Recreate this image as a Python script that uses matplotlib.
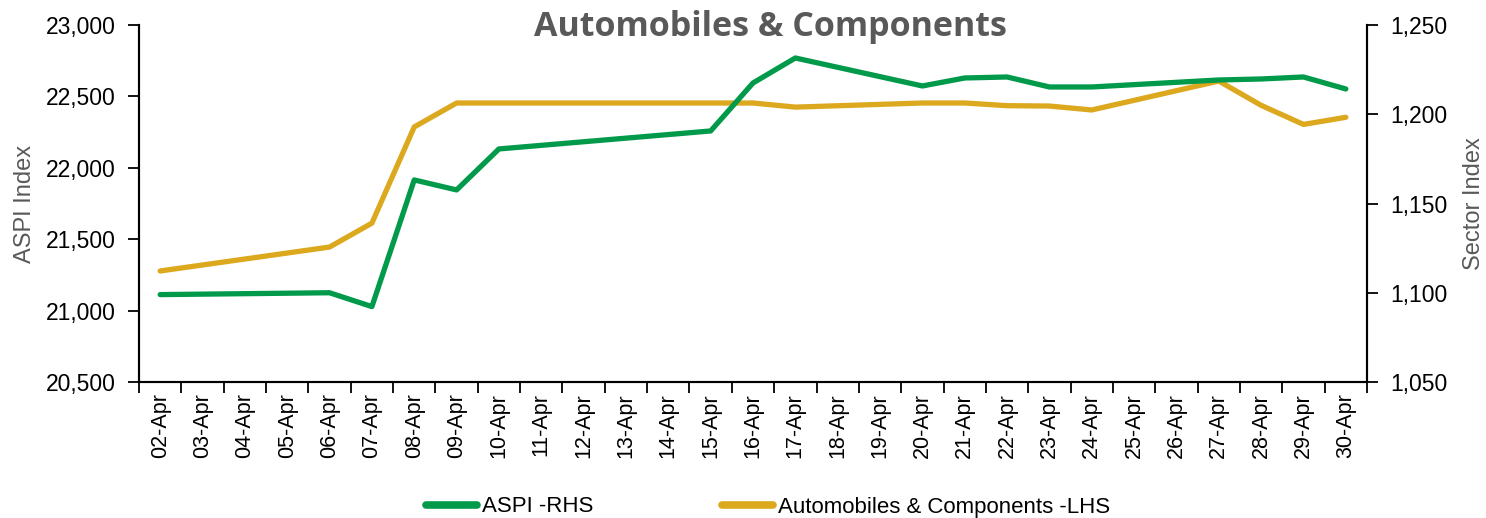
import matplotlib
matplotlib.use("Agg")
import matplotlib.pyplot as plt
from matplotlib.ticker import FuncFormatter, FixedLocator, NullFormatter

# ---- data ----
all_days = list(range(2, 31))
day_labels = [f"{d:02d}-Apr" for d in all_days]

trade_days = [2, 6, 7, 8, 9, 10, 15, 16, 17, 20, 21, 22, 23, 24, 27, 28, 29, 30]
aspi = [21112, 21125, 21028, 21915, 21845, 22132, 22258, 22594, 22769,
        22573, 22629, 22636, 22566, 22566, 22615, 22622, 22636, 22552]
auto = [1112.2, 1125.6, 1139.0, 1192.9, 1206.3, 1206.3, 1206.3, 1206.3, 1204.0,
        1206.3, 1206.3, 1204.8, 1204.6, 1202.4, 1218.6, 1205.0, 1194.3, 1198.3]

title = "Automobiles & Components"
left_label = "ASPI Index"
right_label = "Sector Index"
aspi_name = "ASPI -RHS"
auto_name = "Automobiles & Components -LHS"

GREEN = "#009A4A"
GOLD = "#DCA81E"
GRAY = "#595959"

plt.rcParams['font.family'] = ['Liberation Sans', 'DejaVu Sans']

fig = plt.figure(figsize=(14.86, 5.18), dpi=100)
ax = fig.add_axes([139/1486, 1-382/518, (1367-139)/1486, (382-25)/518])
ax2 = ax.twinx()

l1, = ax.plot(trade_days, aspi, color=GREEN, lw=3.8, solid_capstyle='round', solid_joinstyle='round', zorder=3)
l2, = ax2.plot(trade_days, auto, color=GOLD, lw=3.8, solid_capstyle='round', solid_joinstyle='round', zorder=2)
ax.set_zorder(ax2.get_zorder() + 1)
ax.patch.set_visible(False)

ax.set_xlim(1.5, 30.5)
ax.set_ylim(20500, 23000)
ax2.set_ylim(1050, 1250)
ax.set_yticks([20500, 21000, 21500, 22000, 22500, 23000])
ax2.set_yticks([1050, 1100, 1150, 1200, 1250])
fmt = FuncFormatter(lambda v, p: f"{v:,.0f}")
ax.yaxis.set_major_formatter(fmt)
ax2.yaxis.set_major_formatter(fmt)

ax.xaxis.set_major_locator(FixedLocator([d - 0.5 for d in all_days] + [30.5]))
ax.xaxis.set_major_formatter(NullFormatter())
ax.xaxis.set_minor_locator(FixedLocator(all_days))
ax.set_xticklabels(day_labels, minor=True, rotation=90, fontsize=15.5)
ax.tick_params(axis='x', which='major', length=8, width=1.3, direction='out')
ax.tick_params(axis='x', which='minor', length=0, pad=8)
ax.tick_params(axis='y', length=8, width=1.3, labelsize=16.5, pad=9)
ax2.tick_params(axis='y', length=8, width=1.3, labelsize=16.5, pad=9)

for a in (ax, ax2):
    a.spines['top'].set_visible(False)
    for s in ('left', 'right', 'bottom'):
        a.spines[s].set_linewidth(1.5)
        a.spines[s].set_color('black')

ax.set_ylabel(left_label, fontsize=17, color=GRAY, labelpad=7)
ax2.set_ylabel(right_label, fontsize=17, color=GRAY, labelpad=11)

fig.text(770/1486, 1-27/518, title, ha='center', va='center', fontsize=24.5,
         fontweight='bold', color=GRAY, family=['Open Sans', 'DejaVu Sans'])

leg = fig.legend([l1, l2], [aspi_name, auto_name], loc='center', bbox_to_anchor=(768/1486, 1-507/518),
                 ncol=2, frameon=False, fontsize=16, handlelength=2.3, columnspacing=5.8,
                 handletextpad=0.2)
for h in leg.legend_handles:
    h.set_linewidth(5.5)

fig.savefig("out.png", dpi=100)
